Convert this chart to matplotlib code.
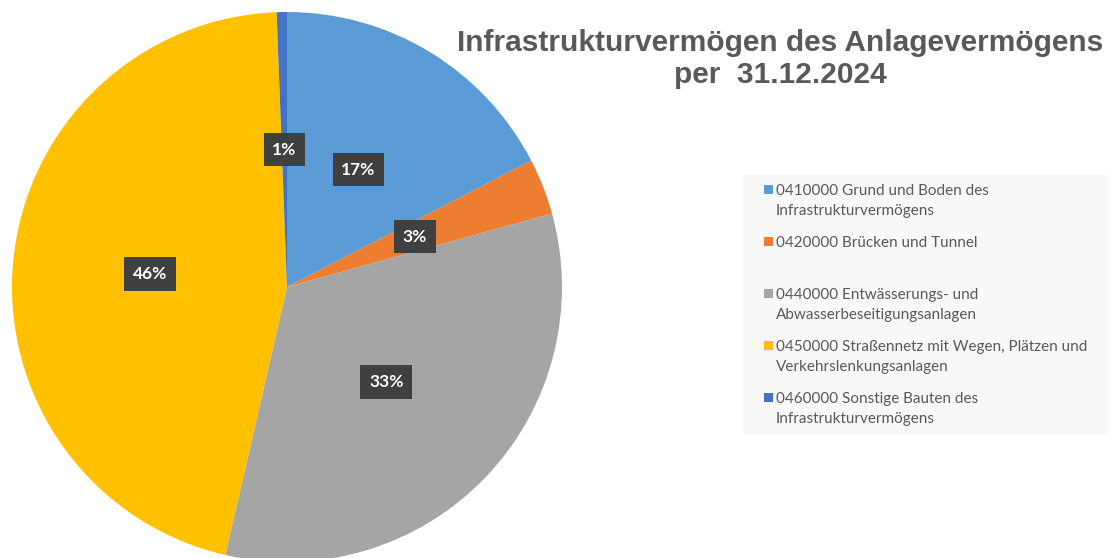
import matplotlib.pyplot as plt
from matplotlib.patches import Rectangle

# data
categories = [
    "0410000 Grund und Boden des\nInfrastrukturvermögens",
    "0420000 Brücken und Tunnel",
    "0440000 Entwässerungs- und\nAbwasserbeseitigungsanlagen",
    "0450000 Straßennetz mit Wegen, Plätzen und\nVerkehrslenkungsanlagen",
    "0460000 Sonstige Bauten des\nInfrastrukturvermögens",
]
shares = [17.4, 3.3, 32.9, 45.8, 0.6]
colors = ["#5B9BD5", "#ED7D31", "#A5A5A5", "#FFC000", "#4472C4"]
title = "Infrastrukturvermögen des Anlagevermögens\nper  31.12.2024"

W, H = 1114, 558
fig = plt.figure(figsize=(W / 100, H / 100), dpi=100)

# pie axes: centre (287, 287) px, radius 275 px
cx, cy, r = 287, 287, 275
ax = fig.add_axes([(cx - r) / W, (H - cy - r) / H, 2 * r / W, 2 * r / H])
wedges, texts, autotexts = ax.pie(
    shares, colors=colors, startangle=90, counterclock=False,
    autopct=lambda p: f"{p:.0f}%", pctdistance=0.5,
    wedgeprops=dict(linewidth=0),
)
for t in autotexts:
    t.set_color("white")
    t.set_fontsize(12.5)
    t.set_fontweight("bold")
    t.set_fontfamily("Lato")
    t.set_bbox(dict(boxstyle="square,pad=0.5", facecolor="#404040", edgecolor="none"))
ax.set_xlim(-1, 1)
ax.set_ylim(-1, 1)
ax.set_axis_off()

fig.text(780 / W, 1 - 59 / H, title, ha="center", va="center",
         fontsize=21.5, fontweight="bold", color="#595959",
         family="Liberation Sans", linespacing=1.22)

# legend box drawn by hand to keep the fixed row spacing
fig.patches.append(Rectangle((743 / W, 1 - 434 / H), (1108 - 743) / W, (434 - 175) / H,
                             transform=fig.transFigure, facecolor="#F8F8F8",
                             edgecolor="none", zorder=0))
row0, step = 190, 52
for i, (lab, col) in enumerate(zip(categories, colors)):
    y = row0 + i * step
    fig.patches.append(Rectangle((764 / W, 1 - (y + 4) / H), 9 / W, 9 / H,
                                 transform=fig.transFigure, facecolor=col,
                                 edgecolor="none"))
    fig.text(776 / W, 1 - (y - 6) / H, lab, ha="left", va="top",
             fontsize=11, color="#595959", family="Lato", linespacing=1.55)

fig.savefig("out.png", dpi=100)
